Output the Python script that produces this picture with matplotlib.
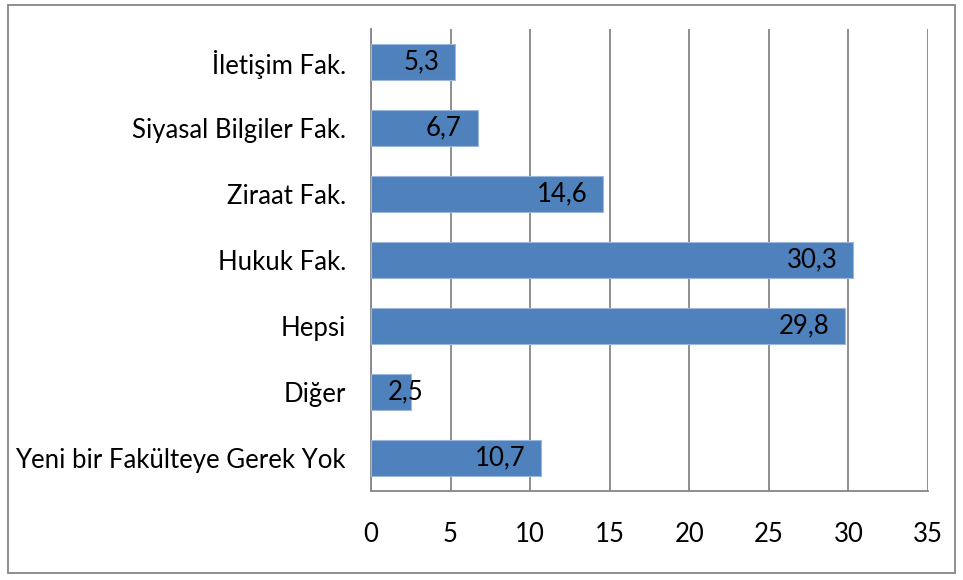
import matplotlib
matplotlib.use("Agg")
import matplotlib.pyplot as plt
from matplotlib.patches import Rectangle

categories = ["İletişim Fak.", "Siyasal Bilgiler Fak.", "Ziraat Fak.", "Hukuk Fak.",
              "Hepsi", "Diğer", "Yeni bir Fakülteye Gerek Yok"]
values = [5.3, 6.7, 14.6, 30.3, 29.8, 2.5, 10.7]
xticks = [0, 5, 10, 15, 20, 25, 30, 35]

plt.rcParams['font.family'] = ['Lato', 'DejaVu Sans']
FS = 18.5

fig = plt.figure(figsize=(9.63, 5.8), dpi=100)
ax = fig.add_axes([371/963, 1 - 491/580, (928 - 371)/963, (491 - 29)/580])

ypos = list(range(len(categories)))
ax.barh(ypos, values, height=0.56, color='#4F81BD', edgecolor='#9BB7DB', linewidth=0.8, zorder=3)
ax.set_ylim(len(categories) - 0.5, -0.5)
ax.set_xlim(0, 35)
ax.set_yticks(ypos)
ax.set_yticklabels(categories, fontsize=FS)
ax.set_xticks(xticks)
ax.set_xticklabels([str(t) for t in xticks], fontsize=FS)
ax.tick_params(axis='y', length=0, pad=18)
ax.tick_params(axis='x', length=0, pad=22)
ax.grid(axis='x', color='#868686', linewidth=1.3, zorder=0)
for s in ['top', 'right']:
    ax.spines[s].set_visible(False)
for s in ['left', 'bottom']:
    ax.spines[s].set_color('#868686')
    ax.spines[s].set_linewidth(1.3)

fig.canvas.draw()
renderer = fig.canvas.get_renderer()
pad_px = 16
for y, v in zip(ypos, values):
    txt = f"{v:.1f}".replace('.', ',')
    t = ax.annotate(txt, xy=(v, y), xytext=(-pad_px, 0), textcoords='offset pixels',
                    ha='right', va='center', fontsize=FS, color='black', zorder=4)
    bb = t.get_window_extent(renderer)
    x0 = ax.transData.transform((0, y))[0]
    if bb.x0 < x0 + pad_px:
        t.remove()
        ax.annotate(txt, xy=(0, y), xytext=(pad_px + 1, 0), textcoords='offset pixels',
                    ha='left', va='center', fontsize=FS, color='black', zorder=4)

fig.patches.append(Rectangle((8/963, 1 - 573/580), (955 - 8)/963, (573 - 5)/580,
                             transform=fig.transFigure, fill=False, edgecolor='#868686', linewidth=1.3))

fig.savefig("out.png", dpi=100)
